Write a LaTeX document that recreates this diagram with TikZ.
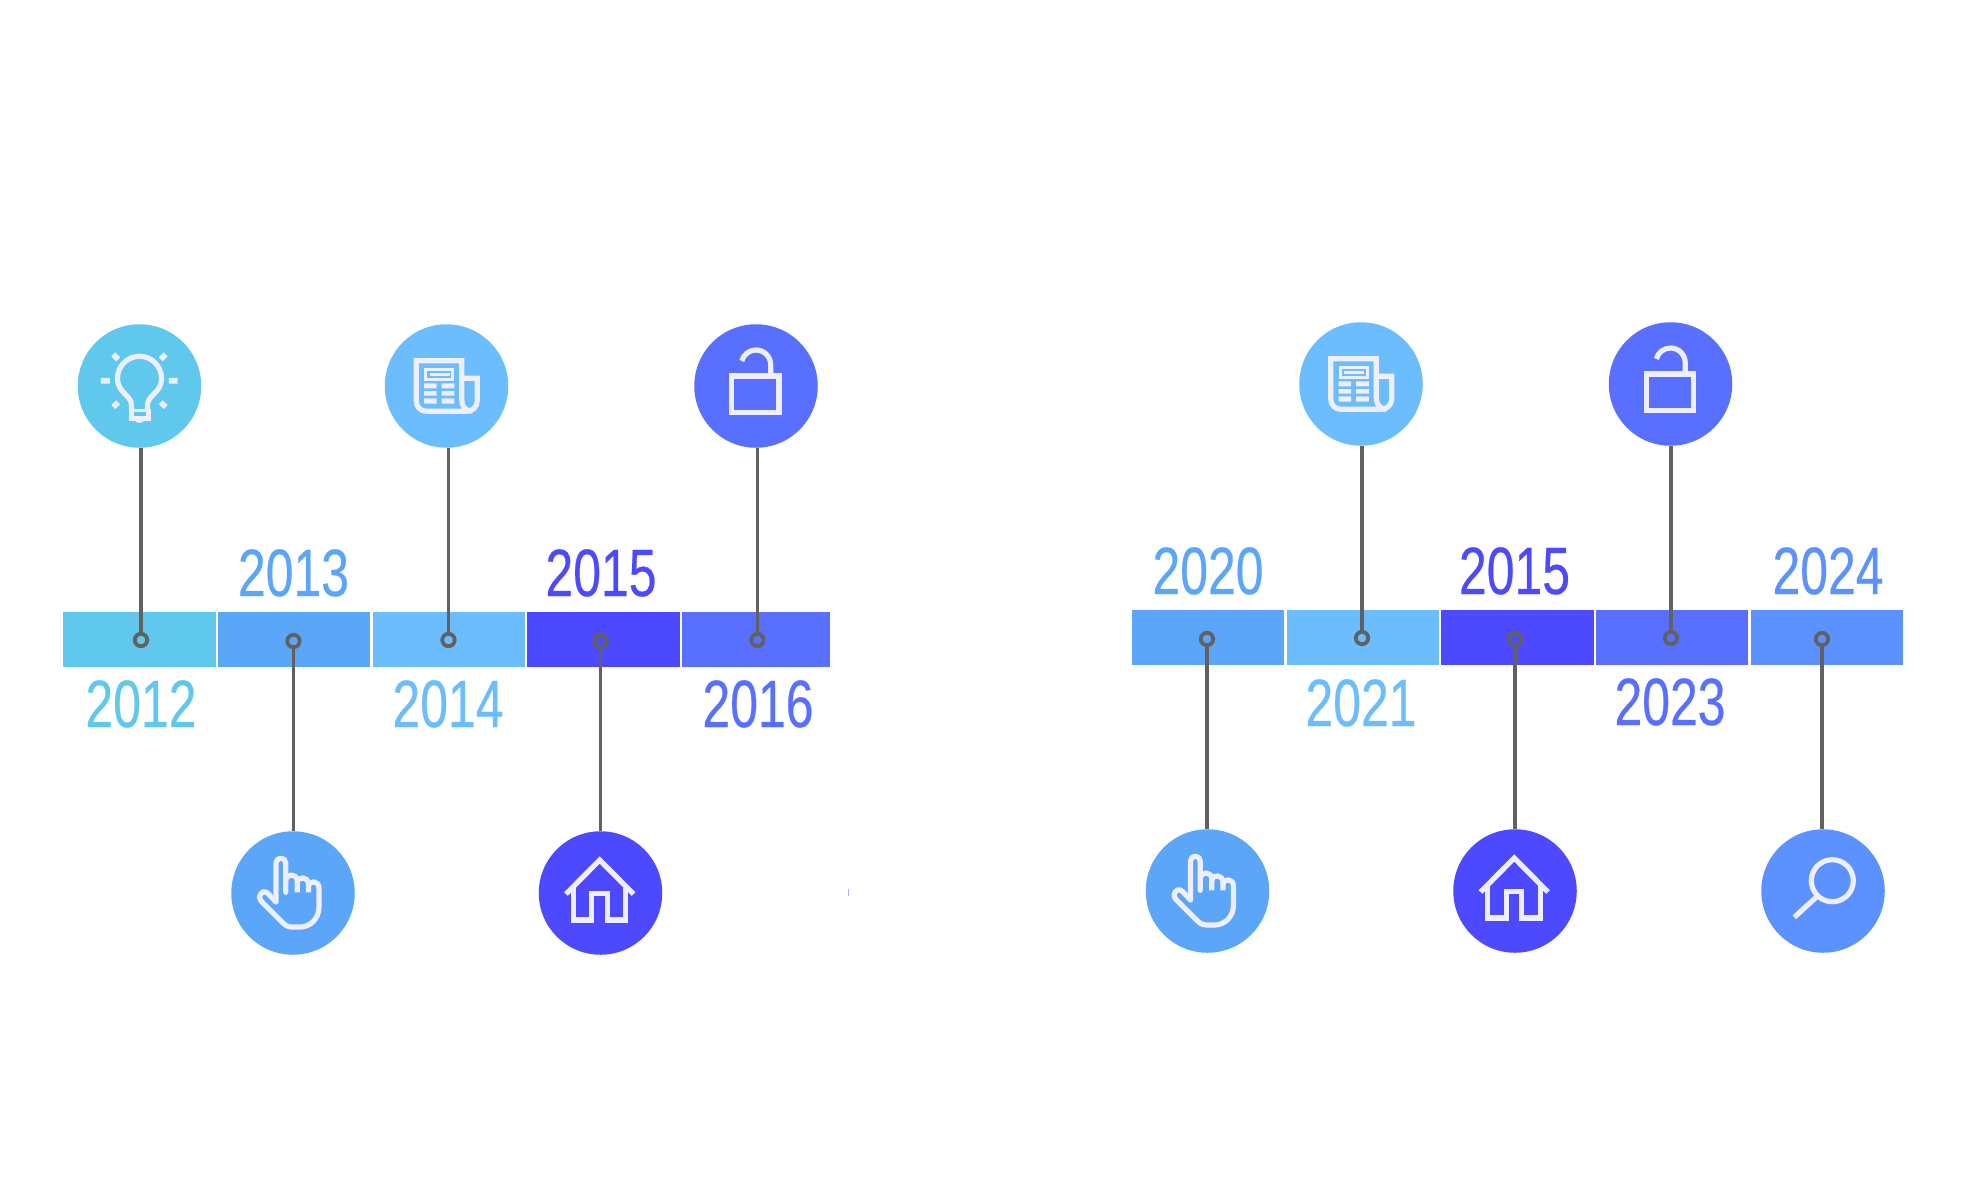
\documentclass[tikz,border=0pt]{standalone}
\usepackage{fontspec}
\newfontfamily\yrfont[FakeStretch=0.745,FakeBold=0.35]{Liberation Sans}
\definecolor{cA}{HTML}{5FC8EC}
\definecolor{cB}{HTML}{5BA6F8}
\definecolor{cC}{HTML}{6BBDFE}
\definecolor{cD}{HTML}{4D49FF}
\definecolor{cE}{HTML}{586FFF}
\definecolor{cF}{HTML}{5C92FF}
\definecolor{icn}{HTML}{EEEEFD}
\definecolor{stem}{HTML}{616161}
\tikzset{
  bar/.style={rectangle,anchor=north west,inner sep=0pt,outer sep=0pt,minimum height=55pt,fill=#1},
  disc/.style={circle,inner sep=0pt,outer sep=0pt,minimum size=123.5pt,fill=#1},
  ring/.style={circle,inner sep=0pt,outer sep=0pt,minimum size=12.4pt,draw=stem,line width=3.8pt},
  link/.style={draw=stem,line width=3.5pt},
  yr/.style={anchor=base,inner sep=0pt,text=#1,font=\yrfont\fontsize{67}{67}\selectfont},
  ico/.style={draw=icn,line width=5.2pt,line join=miter},
  icofill/.style={fill=icn,draw=none},
}
\newcommand{\bulbicon}[2]{\begin{scope}[shift={(#1)}]
  \path[ico] (-8,24) -- (-8,19) .. controls (-8,9) and (-22,7) .. (-22,-7.7) arc[start angle=180,end angle=360,radius=22] .. controls (22,7) and (8,9) .. (8,19) -- (8,24);
  \fill[icofill] (-11,23.3) rectangle (11,34.7);
  \fill[fill=#2] (-6,25.5) rectangle (6,30);
  \fill[icofill] (-5,34) .. controls (-3,38) and (3,38) .. (5,34) -- cycle;
  \path[ico,line width=5.6pt] (-38.7,-5.3) -- (-29.7,-5.3) (29.3,-5.3) -- (38,-5.3)
    (-26.3,-31.7) -- (-21.3,-26.7) (26.3,-31.7) -- (21.3,-26.7)
    (-26.3,21) -- (-21.3,16.3) (26.3,21) -- (21.3,16.3);
\end{scope}}
\newcommand{\newsicon}[1]{\begin{scope}[shift={(#1)}]
  \path[ico] (15.3,15) -- (15.3,-25.3) -- (-30.3,-25.3) -- (-30.3,15) arc[start angle=180,end angle=90,radius=10.3] -- (20.4,25.3) arc[start angle=90,end angle=0,radius=10.3] -- (30.7,-7.7) -- (15.3,-7.7);
  \path[ico] (15.3,15) arc[start angle=180,end angle=90,radius=10.3];
  \path[ico,line width=3pt] (-21,-16.2) rectangle (6.3,-6.5);
  \fill[icofill] (-17,-12.7) rectangle (3,-10.1);
  \fill[icofill] (-22.5,-2.7) rectangle (-9.8,2.3) (-4.8,-2.7) rectangle (7.8,2.3)
    (-22.5,5) rectangle (-9.8,9.7) (-4.8,5) rectangle (7.8,9.7)
    (-22.5,12.3) rectangle (-9.8,17.7) (-4.8,12.3) rectangle (7.8,17.7);
\end{scope}}
\newcommand{\lockicon}[1]{\begin{scope}[shift={(#1)}]
  \path[ico] (-24.3,-10) rectangle (23,26.7);
  \path[ico] (14.7,-10) -- (14.7,-21.3) arc[start angle=360,end angle=195,radius=14.7];
\end{scope}}
\newcommand{\handicon}[1]{\begin{scope}[shift={(#1)}]
  \path[ico,line join=round,line cap=round] (-17,9) -- (-17,-30) arc[start angle=180,end angle=360,radius=4.85] -- (-7.3,-0.7);
  \path[ico,line join=round] (-7.3,-12) .. controls (-7.3,-20) and (4.3,-20) .. (4.3,-12) -- (4.3,-0.7);
  \path[ico,line join=round] (4.3,-10) .. controls (4.3,-17) and (15.4,-17) .. (15.4,-9) -- (15.4,-0.7);
  \path[ico,line join=round] (15.4,-6) .. controls (15.4,-13) and (26,-13) .. (26,-5) -- (26,13.7) .. controls (26,26) and (17,34) .. (7,34) -- (-1.3,34) .. controls (-6,34) and (-9,31) .. (-11.3,28.7) -- (-31.5,8.5) .. controls (-35,5) and (-33,0.5) .. (-30,-1) .. controls (-28,-1.8) and (-26.5,-0.8) .. (-25,0.5) -- (-17,9);
\end{scope}}
\newcommand{\homeicon}[1]{\begin{scope}[shift={(#1)}]
  \path[ico] (-34.5,1) -- (-0.8,-33) -- (33,1);
  \path[ico] (-27.3,-5) -- (-27.3,27) -- (-8.8,27) -- (-8.8,0.3) -- (6.8,0.3) -- (6.8,27) -- (25.3,27) -- (25.3,-5);
\end{scope}}
\newcommand{\lensicon}[1]{\begin{scope}[shift={(#1)}]
  \path[ico] (9.3,-10.3) circle[radius=21];
  \path[ico] (-7,6.3) -- (-28.7,26.3);
\end{scope}}
\begin{document}
\begin{tikzpicture}[x=1pt,y=1pt,yscale=-1]
\useasboundingbox (0,0) rectangle (1983,1200);
% left bar
\node[bar=cA,minimum width=153pt] (s1) at (63,612) {};
\node[bar=cB,minimum width=152pt] (s2) at (218,612) {};
\node[bar=cC,minimum width=152pt] (s3) at (373,612) {};
\node[bar=cD,minimum width=153pt] (s4) at (527,612) {};
\node[bar=cE,minimum width=148pt] (s5) at (682,612) {};
% right bar
\node[bar=cB,minimum width=152pt] (t1) at (1132,610) {};
\node[bar=cC,minimum width=152pt] (t2) at (1287,610) {};
\node[bar=cD,minimum width=153pt] (t3) at (1441,610) {};
\node[bar=cE,minimum width=152pt] (t4) at (1596,610) {};
\node[bar=cF,minimum width=152pt] (t5) at (1751,610) {};
% discs
\node[disc=cA] (c1) at (139.5,386) {};
\node[disc=cB] (c2) at (293,893) {};
\node[disc=cC] (c3) at (446.5,386) {};
\node[disc=cD] (c4) at (600.5,893) {};
\node[disc=cE] (c5) at (756,386) {};
\node[disc=cB] (d1) at (1207.5,891) {};
\node[disc=cC] (d2) at (1361,384) {};
\node[disc=cD] (d3) at (1515,891) {};
\node[disc=cE] (d4) at (1670.5,384) {};
\node[disc=cF] (d5) at (1823,891) {};
% rings
\node[ring] (r1) at (141,640) {};
\node[ring] (r2) at (293.5,641) {};
\node[ring] (r3) at (448.5,640) {};
\node[ring] (r4) at (600.5,641) {};
\node[ring] (r5) at (757.5,640) {};
\node[ring] (q1) at (1207,639) {};
\node[ring] (q2) at (1362,638) {};
\node[ring] (q3) at (1515,639) {};
\node[ring] (q4) at (1671,638) {};
\node[ring] (q5) at (1822,639) {};
% connectors
\path[link] (r1.north) -- (r1.north |- c1.south);
\path[link] (r2.south) -- (r2.south |- c2.north);
\path[link] (r3.north) -- (r3.north |- c3.south);
\path[link] (r4.south) -- (r4.south |- c4.north);
\path[link] (r5.north) -- (r5.north |- c5.south);
\path[link] (q1.south) -- (q1.south |- d1.north);
\path[link] (q2.north) -- (q2.north |- d2.south);
\path[link] (q3.south) -- (q3.south |- d3.north);
\path[link] (q4.north) -- (q4.north |- d4.south);
\path[link] (q5.south) -- (q5.south |- d5.north);
% year labels
\node[yr=cA] (y1) at (141,727) {2012};
\node[yr=cB] (y2) at (293.5,596) {2013};
\node[yr=cC] (y3) at (448,727) {2014};
\node[yr=cD] (y4) at (601,596) {2015};
\node[yr=cE] (y5) at (758,727) {2016};
\node[yr=cB] (z1) at (1208,594) {2020};
\node[yr=cC] (z2) at (1361,726) {2021};
\node[yr=cD] (z3) at (1514.5,594) {2015};
\node[yr=cE] (z4) at (1670,725) {2023};
\node[yr=cF] (z5) at (1828,594) {2024};
% icons
\bulbicon{139.5,386}{cA}
\newsicon{446.5,386}
\lockicon{756,386}
\handicon{293,893}
\homeicon{600.5,893}
\handicon{1207.5,891}
\newsicon{1361,384}
\homeicon{1515,891}
\lockicon{1670.5,384}
\lensicon{1823,891}
% stray tick
\fill[fill=cD!45] (848,889) rectangle (849.3,896);
\end{tikzpicture}
\end{document}
